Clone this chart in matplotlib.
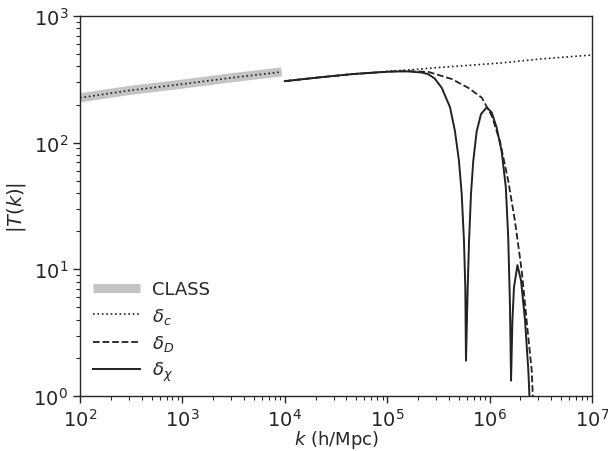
import matplotlib
matplotlib.use("Agg")
import matplotlib.pyplot as plt

# CLASS reference (and the matching delta_c segment below 1e4)
k_class = [1e2, 3e2, 1e3, 3e3, 9.3e3]
T_class = [226, 258, 290, 325, 362]

# delta_c above 1e4
k_c = [1e4, 2.2e4, 4.6e4, 1e5, 2e5, 3.3e5, 1.26e6, 3.16e6, 1e7]
T_c = [306, 328, 348, 365, 380, 393, 425, 458, 492]

# delta_D
k_D = [1e4, 2.2e4, 4.6e4, 1e5, 1.5e5, 2.52e5, 4.27e5, 6.19e5, 8.37e5,
       1.05e6, 1.26e6, 1.52e6, 1.77e6, 2.06e6, 2.30e6, 2.58e6, 2.67e6]
T_D = [306, 328, 348, 363, 368, 362, 318, 271, 227,
       163, 103, 50, 24, 9.7, 3.93, 1.58, 0.8]

# delta_chi
k_chi = [1e4, 2.2e4, 4.6e4, 1e5, 1.19e5, 1.6e5, 2.17e5, 2.5e5, 2.9e5, 3.41e5, 4.11e5,
         4.59e5, 5.02e5, 5.34e5, 5.62e5, 5.79e5, 5.88e5, 6.11e5, 6.30e5, 6.58e5,
         6.93e5, 7.48e5, 8.24e5, 9.37e5, 1.05e6, 1.17e6, 1.31e6, 1.44e6, 1.52e6,
         1.58e6, 1.62e6, 1.67e6, 1.73e6, 1.87e6, 2.03e6, 2.22e6, 2.39e6, 2.48e6]
T_chi = [306, 328, 348, 363, 365, 365, 358, 348, 322, 271, 190,
         123, 72, 39.4, 16.8, 7.2, 1.9, 7.2, 16.8, 39.4,
         72, 123, 168, 190, 173, 132, 86, 44.5, 17.9,
         5.3, 1.32, 3.93, 7.2, 10.8, 8.1, 3.93, 1.58, 0.8]

plt.rcParams['font.family'] = ['DejaVu Sans']
plt.rcParams['font.size'] = 14
plt.rcParams['text.color'] = '#262626'
plt.rcParams['axes.labelcolor'] = '#262626'
plt.rcParams['xtick.color'] = '#262626'
plt.rcParams['ytick.color'] = '#262626'

fig = plt.figure(figsize=(6.08, 4.52), dpi=100)
ax = fig.add_axes([80 / 608, 1 - 397 / 452, 512 / 608, 380 / 452])

line_col = '#222222'
ax.plot(k_class, T_class, color='#c4c4c4', lw=6.5, solid_capstyle='butt', label='CLASS')
ax.plot(k_class, T_class, color=line_col, lw=1.2, ls=':', label=r'$\delta_c$')
ax.plot(k_c, T_c, color=line_col, lw=1.2, ls=':')
ax.plot(k_D, T_D, color=line_col, lw=1.3, ls='--', label=r'$\delta_D$')
ax.plot(k_chi, T_chi, color=line_col, lw=1.4, ls='-', label=r'$\delta_\chi$')

ax.set_xscale('log')
ax.set_yscale('log')
ax.set_xlim(1e2, 1e7)
ax.set_ylim(1e0, 1e3)
ax.set_xlabel(r'$k$ (h/Mpc)', fontsize=13, labelpad=-1)
ax.set_ylabel(r'$|T(k)|$', fontsize=14)
ax.tick_params(which='major', direction='out', length=5, width=1, labelsize=14)
ax.tick_params(which='minor', direction='out', length=3, width=0.8)
for s in ax.spines.values():
    s.set_color('#262626')
    s.set_linewidth(1)

ax.legend(loc='lower left', frameon=False, fontsize=13, handlelength=2.6,
          handletextpad=0.7, labelspacing=0.4, borderaxespad=0.3,
          bbox_to_anchor=(0.0, 0.0))

fig.savefig('out.png', dpi=100)
